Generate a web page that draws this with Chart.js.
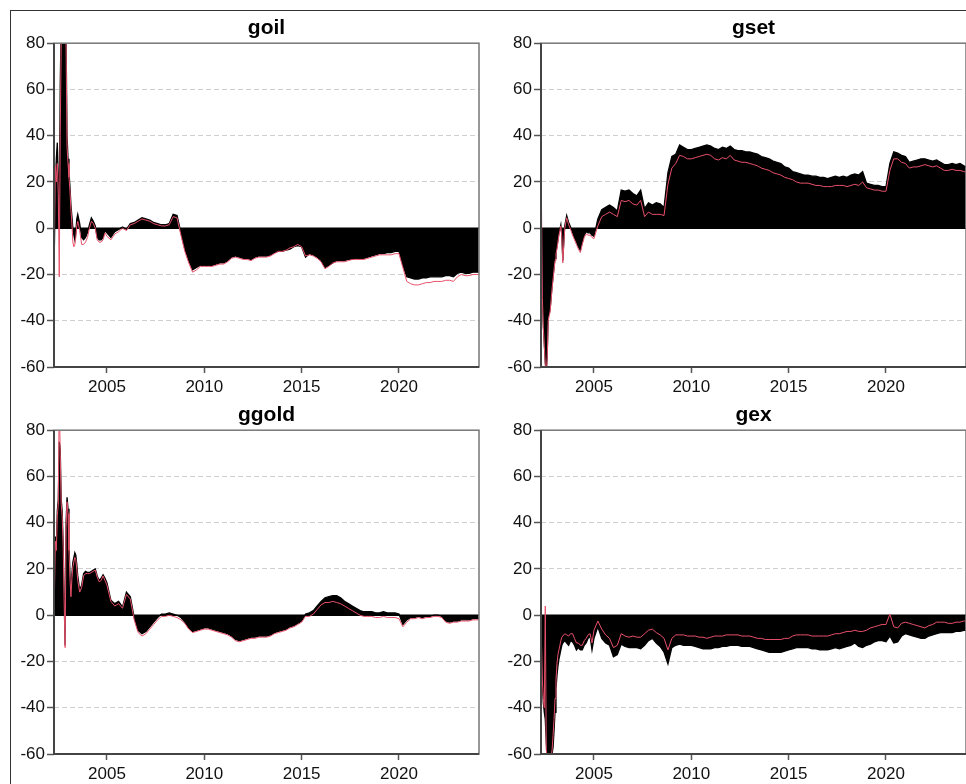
<!DOCTYPE html>
<html>
<head>
<meta charset="utf-8">
<script src="https://cdn.jsdelivr.net/npm/chart.js@4.4.1/dist/chart.umd.min.js"></script>
<style>
  html, body { margin: 0; padding: 0; background: #fff; overflow: hidden; }
  #wrap { position: relative; width: 966px; height: 784px; overflow: hidden; }
  #frame { position: absolute; left: 10px; top: 10px; width: 2000px; height: 2000px;
           border-left: 1px solid #333; border-top: 1px solid #333; }
  canvas { position: absolute; }
</style>
</head>
<body>
<div id="wrap">
  <div id="frame"></div>
  <canvas id="c1" width="480" height="400" style="left:0px;top:0px"></canvas>
  <canvas id="c2" width="480" height="400" style="left:487px;top:0px"></canvas>
  <canvas id="c3" width="480" height="397" style="left:0px;top:387px"></canvas>
  <canvas id="c4" width="480" height="397" style="left:487px;top:387px"></canvas>
</div>
<script>
// time axis (decimal years), denser at the start where the series jump around
var years = [
  2002.30, 2002.35, 2002.40, 2002.45, 2002.50, 2002.55, 2002.60, 2002.65, 2002.70, 2002.75,
  2002.80, 2002.85, 2002.90, 2002.95, 2003.00, 2003.05, 2003.10, 2003.15, 2003.20, 2003.25,
  2003.30, 2003.35, 2003.40, 2003.45, 2003.50,
  2003.6, 2003.7, 2003.8, 2003.9, 2004.0, 2004.1, 2004.2, 2004.3, 2004.4, 2004.5,
  2004.6, 2004.7, 2004.8, 2004.9, 2005.0,
  2005.2, 2005.4, 2005.6, 2005.8, 2006.0,
  2006.2, 2006.4, 2006.6, 2006.8, 2007.0,
  2007.2, 2007.4, 2007.6, 2007.8, 2008.0,
  2008.2, 2008.4, 2008.6, 2008.8, 2009.0,
  2009.2, 2009.4, 2009.6, 2009.8, 2010.0,
  2010.2, 2010.4, 2010.6, 2010.8, 2011.0,
  2011.2, 2011.4, 2011.6, 2011.8, 2012.0,
  2012.2, 2012.4, 2012.6, 2012.8, 2013.0,
  2013.2, 2013.4, 2013.6, 2013.8, 2014.0,
  2014.2, 2014.4, 2014.6, 2014.8, 2015.0,
  2015.2, 2015.4, 2015.6, 2015.8, 2016.0,
  2016.2, 2016.4, 2016.6, 2016.8, 2017.0,
  2017.2, 2017.4, 2017.6, 2017.8, 2018.0,
  2018.2, 2018.4, 2018.6, 2018.8, 2019.0,
  2019.2, 2019.4, 2019.6, 2019.8, 2020.0,
  2020.2, 2020.4, 2020.6, 2020.8, 2021.0,
  2021.2, 2021.4, 2021.6, 2021.8, 2022.0,
  2022.2, 2022.4, 2022.6, 2022.8, 2023.0,
  2023.2, 2023.4, 2023.6, 2023.8, 2024.0,
  2024.1
];

var goilFill = [
  -8, 20, 30, 37, 22, 3, 62, 88, 100, 105, 100, 95, 82, 40, 30, 24, 18, 10, 5, 0, -3, -5, -2, 4, 6,
  2, -4, -5, -4, -2, 1.5, 4.5, 3, 1, -4, -5, -5, -4, -1, -2,
  -4, -1.5, -0.5, 0.5, -0.5,
  2, 2.5, 3.5, 4.5, 4,
  3.5, 2.5, 2, 1.5, 1.5,
  2, 6, 5.5, -2, -9,
  -14, -18, -17, -16, -16,
  -16, -16, -15.5, -15, -15,
  -14, -12.5, -12, -12.5, -13,
  -13, -13.5, -12.5, -12, -12,
  -12, -11.5, -10.5, -10, -10,
  -9.5, -9, -8, -7.5, -8,
  -12.5, -11, -11.5, -12.5, -14,
  -17, -16, -15, -14, -14,
  -14, -13.5, -13.5, -13, -13,
  -13, -12.5, -12, -11.5, -11,
  -11, -10.5, -10.5, -10, -10,
  -16, -21, -21.5, -22, -22,
  -21.5, -21.5, -21, -21, -21,
  -21, -20.5, -20.5, -21, -19.5,
  -19, -19.5, -19.5, -19, -19,
  -19
];
var goilLine = [
  -8, 27, 20, 28, 15, -21, 40, 80, 95, 100, 98, 90, 80, 35, 28, 22, 16, 8, 2, -6, -8, -7, -4, 1, 3,
  -1, -7, -7, -6, -4, 0, 3, 2, 0, -5, -6, -6, -5, -2, -3.5,
  -5, -2.5, -1.5, 0, -1,
  1.5, 2, 3, 4, 3.5,
  3, 2, 1.5, 1, 1,
  1.5, 5, 4.5, -3, -10,
  -15, -19, -18, -16.5, -16.5,
  -16.5, -16.5, -16, -15.5, -15.5,
  -14.5, -13, -12.5, -13, -13.5,
  -13.5, -14, -13, -12.5, -12.5,
  -12.5, -12, -11, -10, -10,
  -9.5, -8.5, -8, -7, -8,
  -12, -11.5, -12, -13, -14.5,
  -17.5, -16.5, -15, -14.5, -14.5,
  -14.5, -14, -13.5, -13.5, -13.5,
  -13.5, -13, -12.5, -12, -11.5,
  -11.5, -11.5, -11.5, -11, -11,
  -17, -23, -24, -24.5, -24.5,
  -24, -23.5, -23.5, -23, -23,
  -23, -22.5, -22.5, -23, -21,
  -20, -20.5, -20.5, -20, -20,
  -20
];

var gsetFill = [
  -5, -28, -42, -50, -58, -62, -55, -38, -37, -35, -30, -25, -21, -17, -13, -10, -8, -5, -2, -0.5, 1.5, -3, -14, -6, 1,
  5.5, 2.5, 0.5, -2, -4, -6, -8, -9.5, -6, -3, -1.5, -2, -2, -3, -3.5,
  4, 8, 9, 10, 9,
  7.5, 16.5, 16, 16.5, 15,
  14, 16.5, 8.5, 11, 10,
  11, 10.5, 9, 24, 31,
  32, 36, 35, 34, 34,
  34.5, 35, 35.5, 36, 35.5,
  34.5, 34, 35, 34.5, 35.5,
  34, 33.5, 33.5, 33, 33,
  32.5, 32, 31, 30.5, 30,
  29, 28.5, 28, 26.5, 26,
  24.5, 24, 23.5, 23, 23,
  22.5, 22.5, 22, 22, 21.5,
  22, 22.5, 22, 22.5, 22,
  23, 23.5, 23, 24.5, 19.5,
  19, 18.5, 18.5, 18, 18,
  28, 33, 32.5, 31.5, 31,
  28.5, 29, 29.5, 30, 30,
  29.5, 29, 29.5, 28.5, 27.5,
  27.5, 28, 27.5, 28, 27,
  26.5
];
var gsetLine = [
  15, -30, -43, -51, -59, -63, -56, -40, -38, -36, -31, -26, -22, -18, -14, -11, -9, -6, -3, -1, 1, -4, -15, -7, 0,
  4.5, 1.5, -0.5, -3, -5, -7, -9, -10.5, -7, -4, -2.5, -3, -3, -4, -4.5,
  1, 5, 6, 7, 6,
  5, 12, 11.5, 12, 10.5,
  10, 12, 5, 7, 6,
  6, 6, 5.5, 19, 26,
  28, 31.5, 31, 30, 30,
  30.5, 31, 31.5, 32, 31.5,
  30, 29.5, 30.5, 30, 31.5,
  29.5, 29, 28.5, 28.5, 28,
  27.5, 27, 26, 25.5, 25,
  24, 23.5, 23, 22, 21.5,
  21, 20, 19.5, 19.5, 19.5,
  19, 18.5, 18.5, 18, 18,
  18, 18.5, 18.5, 18.5, 18,
  18.5, 19, 18.5, 20, 17.5,
  17, 16.5, 16.5, 16, 16,
  25, 30, 30, 28.5, 28,
  26, 26.5, 26.5, 27, 27.5,
  27, 26.5, 27, 26, 25,
  25, 25.5, 25, 25, 24.5,
  24.3
];

var ggoldFill = [
  10, 34, 30, 45, 50, 75, 72, 50, 45, 31, 8, -13, 40, 51, 46, 30, 18, 10, 18, 23, 25, 27, 26, 22, 17,
  11, 13, 18, 19, 18.5, 18.5, 19, 19.5, 20, 17, 15, 16, 17.5, 16, 14,
  6.5, 5, 6, 3.5, 10,
  8, -1, -6.5, -8, -7,
  -5, -3, -1, 0.5, 0.5,
  1, 0.5, 0, -1, -3,
  -5.5, -7, -6.5, -6, -5.5,
  -5.5, -6, -6.5, -7, -7.5,
  -8, -9, -10.5, -11, -10.5,
  -10, -9.5, -9.5, -9, -9,
  -9, -8.5, -7.5, -7, -6.5,
  -6, -5, -4.5, -3.5, -2.5,
  0.5, 1, 2, 4, 6,
  7.5, 8, 8.5, 8.5, 7.5,
  6, 5, 4, 3, 2,
  1.5, 1.5, 1.5, 1, 1,
  1.5, 1, 1, 1, 0.5,
  -4, -2, -1, -1, -0.5,
  -1, -0.5, -0.5, 0, 0,
  -0.5, -2.5, -3, -2.5, -2.5,
  -2, -2, -2, -1.5, -1.5,
  -1.5
];
var ggoldLine = [
  8, 32, 28, 43, 48, 95, 70, 48, 43, 30, 7, -14, 38, 49, 44, 28, 16, 8, 16, 21, 23, 25, 24, 20, 15,
  10, 12, 17, 18, 18, 18, 18.5, 19, 19.5, 16.5, 14.5, 15, 17, 15, 13,
  6, 4, 5, 3, 9,
  7, -2, -7.5, -9, -8,
  -6, -4, -2, -0.5, -0.5,
  0, -0.5, -1, -2, -3.5,
  -6, -7.5, -7, -6.5, -6,
  -6, -6.5, -7, -7.5, -8,
  -8.5, -9.5, -11, -11.5, -11,
  -10.5, -10, -10, -9.5, -9.5,
  -9.5, -9, -8, -7.5, -7,
  -6.5, -5.5, -5, -4, -3,
  -0.5, -0.5, 0.5, 2.5, 4.5,
  5.5, 5.5, 6, 5.5, 5,
  4, 3, 2, 1, 0,
  -0.5, -0.5, -0.5, -1, -1,
  -0.5, -1, -1, -1, -1.5,
  -5, -3, -1.5, -1.5, -1,
  -1.5, -1, -1, -0.5, -0.5,
  -1, -3, -3.5, -3, -3,
  -2.5, -2.5, -2.5, -2, -2,
  -2
];

var gexFill = [
  -12, -30, -38, -42, -45, -55, -62, -62, -62, -62, -62, -60, -57, -50, -42, -32, -26, -22, -19, -17, -15, -13, -12, -11.5, -11,
  -12, -13, -11, -11.5, -13, -15, -14, -15, -15, -13, -12, -10, -9, -15, -10,
  -5, -10, -12, -13, -18,
  -17, -12.5, -13.5, -14, -14,
  -14, -14.5, -13, -11, -10,
  -12, -13.5, -16, -21, -14,
  -13, -12.5, -13, -13, -13,
  -13.5, -14, -14.5, -14.5, -14.5,
  -14, -14, -13.5, -13.5, -13,
  -13, -13, -13.5, -13.5, -13.5,
  -14, -14.5, -15, -15.5, -16,
  -16, -16, -16, -15.5, -15,
  -14.5, -14, -14, -14, -14,
  -14.5, -14.5, -15, -15, -15,
  -14.5, -14, -14.5, -14, -13.5,
  -13, -12, -13.5, -14, -13,
  -12.5, -11.5, -11, -11, -11.5,
  -9, -12, -11.5, -9, -8,
  -8.5, -9, -9.5, -10, -10,
  -9, -8.5, -8, -7.5, -7.5,
  -7.5, -7.5, -7, -7, -6.5,
  -6.5
];
var gexLine = [
  -10, -28, -36, -40, 4, -58, -62, -62, -62, -62, -62, -58, -52, -45, -36, -28, -21, -17, -15, -13, -11, -9.5, -9, -8.5, -8,
  -8.5, -9, -8, -8, -10, -12, -12, -13, -13, -11, -10, -8.5, -8, -12, -6.5,
  -2.5, -6, -8.5, -10, -14,
  -13, -8, -9, -9.5, -9,
  -9.5, -9.5, -8, -6.5, -6,
  -7.5, -8.5, -10, -15, -10,
  -8.5, -8.5, -8.5, -9, -9,
  -9, -9.5, -9.5, -10, -9.5,
  -9, -9, -9, -8.5, -8.5,
  -8.5, -8.5, -9, -9, -9,
  -9.5, -10, -10, -10.5, -10.5,
  -10.5, -10.5, -10.5, -10, -10,
  -9, -8.5, -8.5, -8.5, -8.5,
  -9, -9, -9, -9, -9,
  -8.5, -8, -8, -7.5, -7,
  -7, -6.5, -7, -7, -6.5,
  -5.5, -5, -4.5, -4, -4,
  0.5, -5, -5.5, -3.5, -3,
  -3.5, -4, -4.5, -5, -5.5,
  -4.5, -4, -3, -3, -3,
  -3.5, -3.5, -3, -3, -2.5,
  -2.5
];

var yearTicks = [2005, 2010, 2015, 2020];
var yMin = -60, yMax = 80, yStep = 20;

var tickFont = { family: "'Liberation Sans', Arial, sans-serif", size: 17 };

// zero line under the data, box frame on top of it
var framePlugin = {
  id: 'frame',
  beforeDatasetsDraw: function(chart) {
    var a = chart.chartArea, ctx = chart.ctx;
    var y0 = chart.scales.y.getPixelForValue(0);
    ctx.save();
    ctx.strokeStyle = '#000';
    ctx.lineWidth = 1.5;
    ctx.beginPath();
    ctx.moveTo(a.left, y0);
    ctx.lineTo(a.right, y0);
    ctx.stroke();
    ctx.restore();
  },
  afterDatasetsDraw: function(chart) {
    var a = chart.chartArea, ctx = chart.ctx;
    ctx.save();
    ctx.strokeStyle = '#777';
    ctx.lineWidth = 1.5;
    ctx.strokeRect(a.left, a.top, a.right - a.left, a.bottom - a.top);
    ctx.strokeStyle = '#444';
    ctx.lineWidth = 2;
    ctx.beginPath();
    ctx.moveTo(a.left, a.top);
    ctx.lineTo(a.left, a.bottom);
    ctx.lineTo(a.right, a.bottom);
    ctx.stroke();
    ctx.restore();
  }
};

function pts(vals) {
  return vals.map(function(v, i) { return { x: years[i], y: v }; });
}

function makePanel(id, title, fillVals, lineVals) {
  var ctx = document.getElementById(id);
  return new Chart(ctx.getContext('2d'), {
    type: 'line',
    data: {
      datasets: [{
        label: title + ' line',
        data: pts(lineVals),
        borderColor: '#e8506a',
        borderWidth: 1,
        pointRadius: 0,
        fill: false,
        tension: 0,
        order: 0
      }, {
        label: title,
        data: pts(fillVals),
        borderColor: '#000',
        backgroundColor: '#000',
        borderWidth: 1.3,
        pointRadius: 0,
        fill: 'origin',
        tension: 0,
        order: 1
      }]
    },
    options: {
      responsive: false,
      animation: false,
      devicePixelRatio: 1,
      layout: { padding: { left: 0, right: 1, top: 0, bottom: 0 } },
      plugins: {
        legend: { display: false },
        tooltip: { enabled: false },
        title: {
          display: true,
          text: title,
          fullSize: false,
          color: '#000',
          font: { family: "'Liberation Sans', Arial, sans-serif", size: 21, weight: 'bold' },
          padding: { top: 16, bottom: 2 }
        }
      },
      scales: {
        x: {
          type: 'linear',
          min: 2002.28,
          max: 2024.11,
          afterBuildTicks: function(s) { s.ticks = yearTicks.map(function(v) { return { value: v }; }); },
          afterFit: function(s) { s.height = s.chart.height - 367; },
          ticks: { color: '#111', font: tickFont, padding: 4, maxRotation: 0,
                   callback: function(v) { return String(v); } },
          grid: { drawOnChartArea: false, drawTicks: true, tickLength: 6, tickColor: '#555', tickWidth: 1.5 },
          border: { display: false }
        },
        y: {
          min: yMin,
          max: yMax,
          afterFit: function(s) { s.width = 54; },
          ticks: { stepSize: yStep, color: '#111', font: tickFont, padding: 2 },
          grid: {
            drawTicks: true,
            tickLength: 7,
            tickColor: '#555',
            tickWidth: 1.5,
            tickBorderDash: [],
            lineWidth: 1,
            color: function(c) {
              var v = c.tick ? c.tick.value : null;
              return (v === 0 || v === yMax || v === yMin) ? 'rgba(0,0,0,0)' : '#cfcfcf';
            }
          },
          border: { display: false, dash: [5, 3] }
        }
      }
    },
    plugins: [framePlugin]
  });
}

makePanel('c1', 'goil', goilFill, goilLine);
makePanel('c2', 'gset', gsetFill, gsetLine);
makePanel('c3', 'ggold', ggoldFill, ggoldLine);
makePanel('c4', 'gex', gexFill, gexLine);
</script>
</body>
</html>
